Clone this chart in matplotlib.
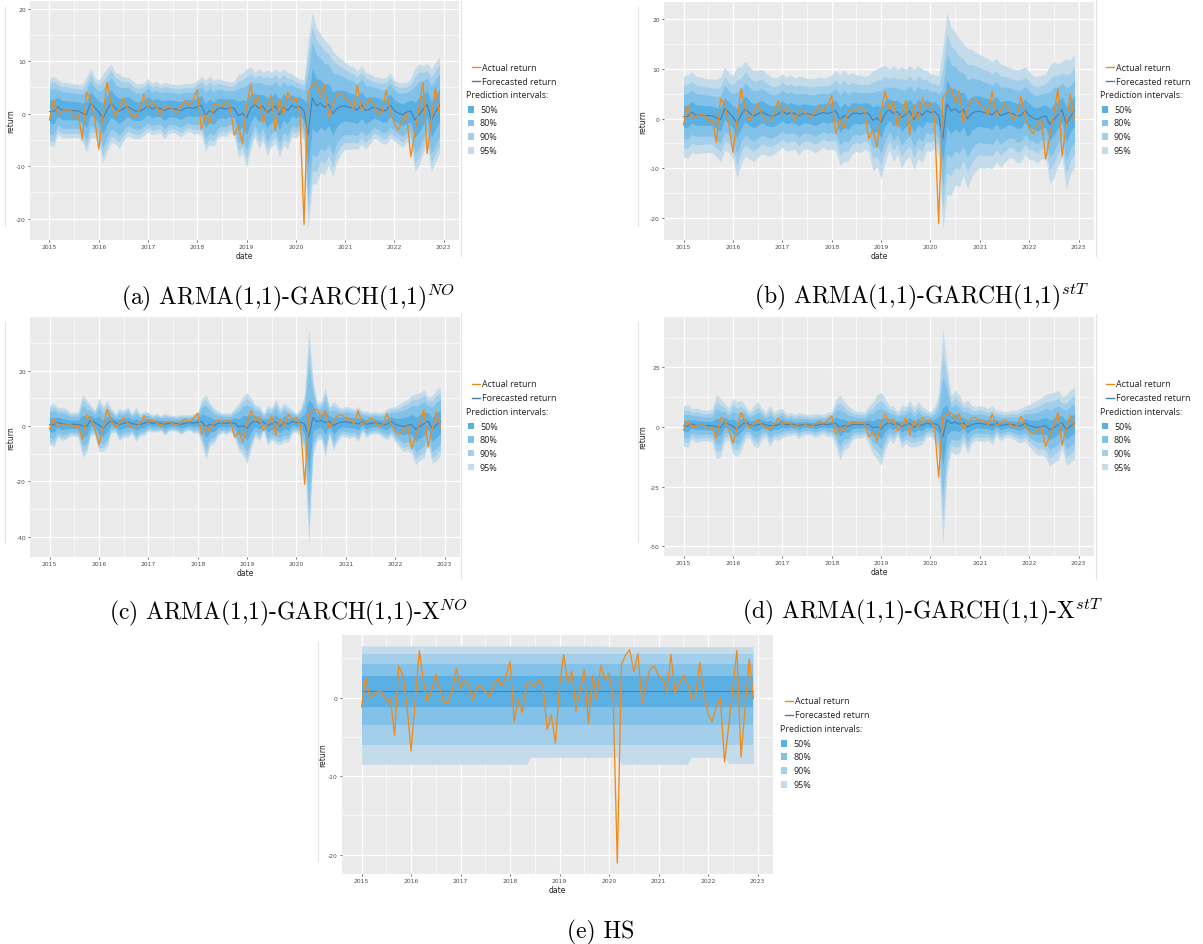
import numpy as np
import matplotlib.pyplot as plt
from matplotlib.ticker import MultipleLocator
from matplotlib.lines import Line2D
from matplotlib.patches import Rectangle

plt.rcParams['mathtext.fontset'] = 'cm'
plt.rcParams['axes.unicode_minus'] = False

# monthly returns Jan 2015 .. Dec 2022
actual = [-1.2, 2.6, -0.1, 0.4, 0.8, 0.7, -0.5, -0.2, -4.8, 4.0, 2.9, -1.0,
          -6.8, -0.5, 6.0, 2.0, -0.5, 1.0, 3.0, 1.0, -0.6, -0.6, 1.0, 3.7,
          1.2, 2.3, 1.5, -0.4, 1.5, 1.5, 0.8, 0.1, 1.5, 2.5, 1.5, 2.7,
          4.6, -3.1, -0.2, -1.9, 1.7, 1.9, 1.4, 2.3, 1.5, -4.1, -2.2, -5.8,
          1.5, 5.5, 1.8, 3.4, -1.7, 1.0, 3.6, -3.3, 2.8, -0.1, 4.1, 2.3,
          3.1, -0.1, -21.1, 4.2, 5.4, 6.1, 3.3, 5.6, -0.8, 1.8, 3.7, 4.0,
          2.8, 2.5, 0.8, 5.5, 0.6, 1.6, 2.9, 1.9, -0.2, 0.3, 4.5, 0.6,
          -2.0, -3.1, -1.1, -0.1, -8.2, -3.7, 1.2, 6.0, -7.6, -1.1, 4.9, -0.1]

# forecasted mean of the ARMA-GARCH models
fc_mean = [0.4, 0.4, 1.3, 0.7, 0.7, 0.6, 0.6, 0.5, 0.1, -0.2, 2.0, 1.2,
           0.3, -0.9, 0.7, 2.0, 1.1, 0.5, 0.9, 1.4, 0.9, 0.5, 0.5, 0.9,
           1.6, 0.9, 1.2, 1.0, 0.6, 1.0, 1.0, 0.8, 0.6, 1.0, 1.2, 1.0,
           1.3, 1.6, -0.3, 0.6, 0.1, 1.0, 1.1, 0.9, 1.2, 1.0, -0.4, 0.1,
           -0.8, 1.0, 1.8, 1.0, 1.4, 0.2, 0.8, 1.5, -0.2, 1.3, 0.6, 1.6,
           1.2, 1.4, 0.6, -4.0, 3.0, 1.5, 2.0, 1.2, 1.8, 0.0, 1.0, 1.4,
           1.5, 1.2, 1.1, 0.7, 1.7, 0.6, 0.9, 1.2, 1.0, 0.5, 0.6, 1.6,
           0.6, 0.1, -0.2, 0.3, 0.5, -1.2, -0.2, 0.8, 1.8, -1.2, 0.3, 1.6]

# forecasted volatility per model
sig_a = [3.27, 3.47, 2.65, 2.70, 2.70, 2.65, 2.60, 2.60, 2.81, 3.67, 3.37, 2.96,
         3.11, 4.34, 4.03, 3.83, 3.47, 3.62, 3.11, 2.86, 2.81, 2.70, 2.65, 2.60,
         2.60, 2.50, 2.55, 2.35, 2.76, 2.45, 2.35, 2.40, 2.55, 2.45, 2.30, 2.45,
         2.60, 2.81, 3.42, 3.32, 3.21, 2.91, 2.70, 2.70, 2.45, 2.65, 4.03, 3.88,
         4.80, 4.03, 3.11, 3.88, 3.32, 4.18, 3.62, 3.62, 4.13, 3.72, 3.72, 3.06,
         2.96, 2.70, 2.96, 9.18, 8.37, 7.60, 6.73, 6.53, 5.87, 6.12, 5.15, 4.59,
         4.23, 4.08, 3.98, 3.83, 3.83, 3.72, 3.42, 3.01, 3.06, 3.16, 3.27, 3.21,
         2.96, 3.01, 3.16, 2.91, 3.16, 5.00, 4.95, 4.29, 3.93, 5.00, 4.85, 4.69]
sig_b = [4.15, 4.28, 4.13, 4.00, 3.90, 3.85, 3.77, 3.77, 3.97, 4.36, 4.28, 4.08,
         4.28, 5.76, 4.94, 4.89, 4.74, 4.69, 4.48, 4.33, 4.23, 4.10, 3.90, 3.80,
         3.77, 3.80, 3.87, 3.64, 4.05, 3.74, 3.64, 3.67, 3.85, 3.74, 3.54, 3.72,
         3.82, 4.13, 4.64, 4.74, 4.43, 4.18, 3.92, 3.97, 3.74, 3.92, 5.15, 5.04,
         5.71, 4.99, 4.13, 4.94, 4.33, 5.20, 4.64, 4.69, 5.15, 4.79, 4.79, 4.13,
         3.97, 3.77, 4.05, 9.32, 9.32, 8.66, 7.85, 7.59, 6.78, 7.18, 6.57, 6.11,
         5.81, 5.71, 5.60, 5.50, 5.30, 5.30, 4.99, 4.69, 4.58, 4.79, 4.79, 4.48,
         4.53, 4.30, 4.46, 4.28, 4.33, 6.06, 5.96, 5.20, 4.94, 6.72, 5.86, 5.81]
sig_c = [3.57, 4.03, 2.76, 3.06, 2.81, 2.19, 2.19, 2.40, 5.77, 4.95, 2.76, 2.35,
         4.90, 4.23, 4.29, 2.24, 1.79, 3.01, 2.50, 2.86, 1.89, 3.16, 2.09, 2.30,
         1.68, 1.58, 1.73, 1.38, 2.04, 1.53, 1.38, 1.48, 1.84, 1.53, 1.43, 1.84,
         1.84, 4.23, 5.97, 3.93, 3.21, 2.24, 1.79, 2.04, 1.73, 2.76, 4.44, 5.41,
         6.53, 4.64, 2.86, 3.27, 1.63, 3.67, 3.01, 4.08, 3.37, 3.57, 3.27, 2.14,
         1.73, 2.55, 5.51, 20.1, 7.09, 3.47, 3.52, 6.43, 2.65, 4.54, 3.27, 2.55,
         2.81, 2.81, 2.60, 3.21, 1.89, 2.45, 2.04, 2.04, 1.99, 2.40, 2.86, 2.60,
         3.27, 3.98, 4.64, 4.69, 5.41, 6.53, 6.22, 6.33, 4.39, 6.28, 6.58, 6.22]
sig_d = [4.33, 4.58, 3.26, 3.72, 3.46, 3.26, 3.26, 3.67, 6.93, 6.22, 4.02, 3.46,
         5.96, 5.86, 5.40, 3.52, 2.80, 4.28, 4.94, 3.36, 2.65, 4.43, 2.85, 3.36,
         3.11, 2.39, 2.50, 2.14, 2.80, 2.34, 2.14, 2.24, 2.55, 2.34, 2.04, 2.60,
         2.70, 4.94, 6.98, 5.20, 4.48, 3.31, 2.80, 2.90, 2.60, 4.02, 5.60, 6.78,
         7.79, 5.60, 3.62, 4.02, 2.50, 4.58, 3.92, 4.99, 4.18, 4.74, 4.02, 3.01,
         2.60, 3.62, 6.88, 23.2, 11.8, 6.06, 6.88, 6.22, 4.13, 5.76, 4.02, 3.62,
         3.77, 3.72, 3.36, 4.18, 2.70, 3.26, 2.75, 2.75, 3.06, 3.31, 3.77, 3.72,
         4.48, 5.20, 5.86, 6.11, 6.72, 7.79, 7.49, 7.49, 5.45, 7.49, 7.74, 7.59]

# quantile multipliers for 50/80/90/95% intervals
z_no = [0.674, 1.282, 1.645, 1.960]
z_st = [0.524, 1.084, 1.507, 1.963]

# historical simulation (HS) forecast and interval bounds
hs_mean = [0.8] * 96
hs_up = [[2.8] * 96, [4.35] * 96, [5.6] * 96, [6.6] * 60 + [6.5] * 36]
hs_lo = [[-1.2] * 96, [-3.5] * 96, [-6.0] * 96,
         [-8.5] * 41 + [-7.6] * 22 + [-8.5] * 17 + [-7.6] * 9 + [-8.4] * 7]

levels = ['50%', '80%', '90%', '95%']
band_cols = ['#5aafe3', '#82c2e9', '#a3cfeb', '#c4dcea']
c_act = '#f28a1a'
c_fc = '#4f7fa8'

W, H = 1203, 945
fig = plt.figure(figsize=(W / 100, H / 100), dpi=100)
t = 2015 + np.arange(96) / 12


def px(x0, y0, x1, y1):
    return [x0 / W, 1 - y1 / H, (x1 - x0) / W, (y1 - y0) / H]


def vline(x, y0, y1):
    fig.add_artist(Line2D([x / W, x / W], [1 - y0 / H, 1 - y1 / H],
                          color='#e3e3e3', lw=0.8))


def panel(rect, mean, ups, los, step, ylab_off):
    ax = fig.add_axes(px(*rect))
    ax.set_facecolor('#ebebeb')
    for k in range(3, -1, -1):
        ax.fill_between(t, los[k], ups[k], color=band_cols[k], lw=0, zorder=2)
    ax.plot(t, mean, color=c_fc, lw=0.8, zorder=3)
    ax.plot(t, actual, color=c_act, lw=0.95, zorder=4)
    lo = min(np.min(los[3]), min(actual))
    hi = max(np.max(ups[3]), max(actual))
    pad = 0.05 * (hi - lo)
    ax.set_ylim(lo - pad, hi + pad)
    span = t[-1] - t[0]
    ax.set_xlim(t[0] - 0.05 * span, t[-1] + 0.05 * span)
    ax.set_xticks(range(2015, 2024))
    ax.xaxis.set_minor_locator(MultipleLocator(0.5))
    ax.yaxis.set_major_locator(MultipleLocator(step))
    ax.yaxis.set_minor_locator(MultipleLocator(step / 2))
    ax.grid(which='major', color='white', lw=0.9, zorder=1)
    ax.grid(which='minor', color='white', lw=0.45, zorder=1)
    ax.set_axisbelow(True)
    for s in ax.spines.values():
        s.set_visible(False)
    ax.tick_params(labelsize=4.3, length=1.5, width=0.5, colors='#333333',
                   labelcolor='#4d4d4d', pad=1.5)
    ax.tick_params(which='minor', length=0)
    ax.set_xlabel('date', fontsize=5.5, labelpad=1, color='#222222')
    ax.set_ylabel('return', fontsize=5.5, color='#222222')
    ax.yaxis.set_label_coords(-ylab_off / (rect[2] - rect[0]), 0.5)
    return ax


def legend(x, y):
    fs = 6.4
    rows = [0, 14, 27.7, 42.4, 55.7, 69.4, 83.4]
    for yy, col, lab in [(y, c_act, 'Actual return'), (y + rows[1], c_fc, 'Forecasted return')]:
        fig.add_artist(Line2D([(x + 4.5) / W, (x + 13) / W], [1 - yy / H, 1 - yy / H],
                              color=col, lw=1.0))
        fig.text((x + 15) / W, 1 - yy / H, lab, fontsize=fs, va='center',
                 family='Open Sans', color='#222222')
    fig.text((x - 0.5) / W, 1 - (y + rows[2]) / H, 'Prediction intervals:', fontsize=fs,
             va='center', family='Open Sans', color='#222222')
    for k in range(4):
        yy = y + rows[3 + k]
        fig.add_artist(Rectangle(((x + 0.7) / W, 1 - (yy + 3.3) / H), 6.6 / W, 6.6 / H,
                                 color=band_cols[k], lw=0))
        fig.text((x + 13) / W, 1 - yy / H, levels[k], fontsize=fs, va='center',
                 family='Open Sans', color='#222222')


def garch(sig, z):
    m = np.array(fc_mean)
    s = np.array(sig)
    return [m + q * s for q in z], [m - q * s for q in z]


ua, la = garch(sig_a, z_no)
ub, lb = garch(sig_b, z_st)
uc, lc = garch(sig_c, z_no)
ud, ld = garch(sig_d, z_st)

# faint frame lines of the embedded panel images
vline(5, 8, 227)
vline(461, 0, 257)
vline(638, 8, 227)
vline(1096, 0, 257)
vline(5, 323, 543)
vline(461, 315, 580)
vline(638, 323, 543)
vline(1096, 315, 580)
vline(318, 643, 862)

panel((30, 2, 459, 241), fc_mean, ua, la, 10, 15)
panel((664, 3, 1094, 241), fc_mean, ub, lb, 10, 17)
panel((30, 318, 460, 558), fc_mean, uc, lc, 20, 15)
panel((664, 318, 1094, 557), fc_mean, ud, ld, 25, 17)
panel((342, 636, 773, 875), hs_mean, hs_up, hs_lo, 10, 15)

legend(467, 68.3)
legend(1101, 68.3)
legend(467, 384.7)
legend(1101, 384.7)
legend(780, 702)

cap = dict(fontsize=17, family='cmr10', ha='center', va='center')
fig.text(288 / W, 1 - 297 / H, r'(a) ARMA(1,1)-GARCH(1,1)$^{NO}$', **cap)
fig.text(922 / W, 1 - 297 / H, r'(b) ARMA(1,1)-GARCH(1,1)$^{stT}$', **cap)
fig.text(288 / W, 1 - 612 / H, r'(c) ARMA(1,1)-GARCH(1,1)-X$^{NO}$', **cap)
fig.text(922 / W, 1 - 612 / H, r'(d) ARMA(1,1)-GARCH(1,1)-X$^{stT}$', **cap)
fig.text(601 / W, 1 - 932 / H, '(e) HS', **cap)

fig.savefig('out.png', dpi=100)
